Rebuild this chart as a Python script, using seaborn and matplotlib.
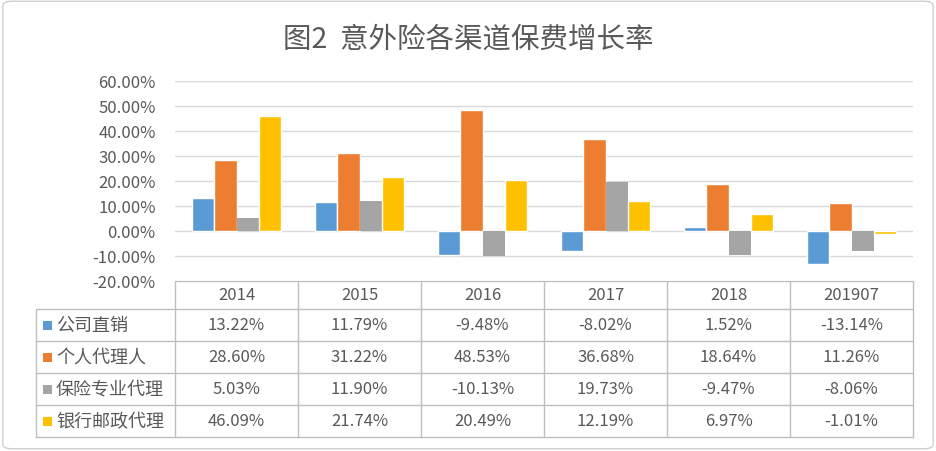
import numpy as np
import pandas as pd
import matplotlib
matplotlib.use('Agg')
import matplotlib.pyplot as plt
import seaborn as sns
from matplotlib.patches import FancyBboxPatch

# 데이터
years = ['2014', '2015', '2016', '2017', '2018', '201907']
channels = ['公司直销', '个人代理人', '保险专业代理', '银行邮政代理']
direct = [13.22, 11.79, -9.48, -8.02, 1.52, -13.14]
agent = [28.60, 31.22, 48.53, 36.68, 18.64, 11.26]
broker = [5.03, 11.90, -10.13, 19.73, -9.47, -8.06]
bank = [46.09, 21.74, 20.49, 12.19, 6.97, -1.01]
colors = ['#5B9BD5', '#ED7D31', '#A5A5A5', '#FFC000']

series = [direct, agent, broker, bank]
df = pd.DataFrame([
    {'year': y, 'channel': ch, 'rate': v / 100}
    for ch, vals in zip(channels, series)
    for y, v in zip(years, vals)
])

sns.set_style('white')
plt.rcParams['font.family'] = ['Noto Sans CJK SC', 'DejaVu Sans']
plt.rcParams['hatch.color'] = '#C8C8C8'
TXT = '#595959'
GRID = '#D9D9D9'

W, H = 936, 452
fig = plt.figure(figsize=(W / 100, H / 100), dpi=100)

def px(x0, y0, x1, y1):
    # 픽셀 좌표 -> figure 비율
    return [x0 / W, 1 - y1 / H, (x1 - x0) / W, (y1 - y0) / H]

# 외곽 테두리
fig.patches.append(FancyBboxPatch((0.003, 0.005), 0.994, 0.99,
                                  boxstyle='round,pad=0,rounding_size=0.01',
                                  transform=fig.transFigure, fill=False,
                                  edgecolor='#D0D0D0', linewidth=1))

fig.text(0.5, 1 - 40 / H, '图2  意外险各渠道保费增长率', ha='center', va='center',
         fontsize=20.5, color=TXT)

# ------------------------------
# 막대 그래프
# ------------------------------
ax = fig.add_axes(px(175, 82, 913, 282))
sns.barplot(data=df, x='year', y='rate', hue='channel', palette=colors,
            width=0.72, gap=0, legend=False, ax=ax, saturation=1)
ax.set_xlim(-0.5, 5.5)
ax.set_ylim(-0.2, 0.6)
ax.set_yticks(np.arange(-0.2, 0.61, 0.1))
ax.set_yticklabels([f'{v * 100:.2f}%' for v in np.arange(-0.2, 0.61, 0.1)])
ax.tick_params(axis='y', length=0, labelsize=12, labelcolor=TXT, pad=14)
ax.set_xticks([])
ax.set_xlabel('')
ax.set_ylabel('')
ax.grid(axis='y', color=GRID, linewidth=1)
ax.set_axisbelow(True)
for s in ax.spines.values():
    s.set_visible(False)

# 보험 전문대리 막대 패턴
for bar in ax.containers[2]:
    bar.set_hatch('.....')
    bar.set_edgecolor('#A5A5A5')
    bar.set_linewidth(0)

# ------------------------------
# 데이터 표
# ------------------------------
tx = fig.add_axes(px(30, 282, 918, 442))
tx.set_xlim(30, 918)
tx.set_ylim(442, 282)
tx.axis('off')

col_edges = [175 + 123 * i for i in range(7)]
row_edges = [282, 310, 342, 374, 406, 438]
lc = '#BFBFBF'
for x in col_edges:
    tx.plot([x, x], [282, 438], color=lc, lw=1)
tx.plot([36, 36], [310, 438], color=lc, lw=1)
tx.plot([175, 913], [282, 282], color=lc, lw=1)
for y in row_edges[1:]:
    tx.plot([36, 913], [y, y], color=lc, lw=1)

for i, y in enumerate(years):
    cx = (col_edges[i] + col_edges[i + 1]) / 2
    tx.text(cx, 296, y, ha='center', va='center', fontsize=12, color=TXT)

for r, (ch, vals, c) in enumerate(zip(channels, series, colors)):
    cy = (row_edges[r + 1] + row_edges[r + 2]) / 2
    tx.add_patch(plt.Rectangle((43, cy - 4.5), 9, 9, color=c, lw=0))
    tx.text(56, cy, ch, ha='left', va='center', fontsize=13, color=TXT)
    for i, v in enumerate(vals):
        cx = (col_edges[i] + col_edges[i + 1]) / 2
        tx.text(cx, cy, f'{v:.2f}%', ha='center', va='center', fontsize=12, color=TXT)

fig.savefig('out.png', dpi=100)
